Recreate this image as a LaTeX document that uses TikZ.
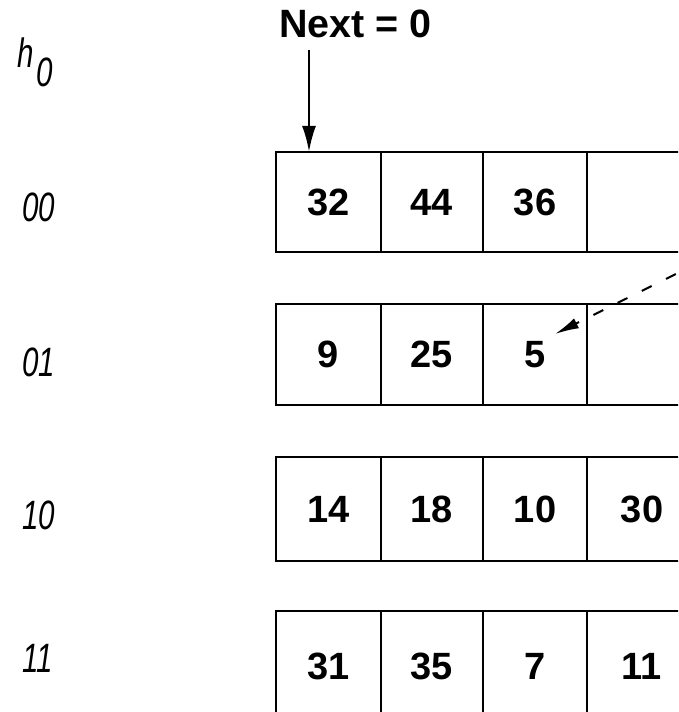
\documentclass[tikz,border=0pt]{standalone}
\usepackage{fontspec}
\usetikzlibrary{arrows.meta}
\newfontfamily\numfont{Liberation Sans}
\newfontfamily\labfont[FakeStretch=0.72]{Liberation Sans}
\begin{document}
\begin{tikzpicture}[x=1pt,y=1pt,
  cell/.style={draw, line width=2.8pt, rectangle, inner sep=0pt, outer sep=0pt,
    anchor=north west, font=\numfont\bfseries\fontsize{38}{40}\selectfont},
  rowlab/.style={inner sep=0pt, anchor=base west,
    font=\labfont\itshape\fontsize{41}{44}\selectfont},
  ptr/.style={line width=2.5pt, -{Latex[width=14pt,length=26pt]}},
  dptr/.style={line width=2pt, dash pattern=on 11pt off 16pt,
    -{Latex[width=11pt,length=24pt]}}]
\useasboundingbox (0,0) rectangle (678,712);
\clip (0,0) rectangle (678,712);
% row 00
\node[cell, minimum width=105pt, minimum height=100pt] (c00) at (276,560) {32};
\node[cell, minimum width=102pt, minimum height=100pt] (c01) at (381,560) {44};
\node[cell, minimum width=104pt, minimum height=100pt] (c02) at (483,560) {36};
\node[cell, minimum width=110pt, minimum height=100pt] (c03) at (587,560) {};
% row 01
\node[cell, minimum width=105pt, minimum height=101pt] (c10) at (276,408) {9};
\node[cell, minimum width=102pt, minimum height=101pt] (c11) at (381,408) {25};
\node[cell, minimum width=104pt, minimum height=101pt] (c12) at (483,408) {5};
\node[cell, minimum width=110pt, minimum height=101pt] (c13) at (587,408) {};
% row 10
\node[cell, minimum width=105pt, minimum height=104pt] (c20) at (276,255) {14};
\node[cell, minimum width=102pt, minimum height=104pt] (c21) at (381,255) {18};
\node[cell, minimum width=104pt, minimum height=104pt] (c22) at (483,255) {10};
\node[cell, minimum width=110pt, minimum height=104pt] (c23) at (587,255) {30};
% row 11
\node[cell, minimum width=105pt, minimum height=110pt] (c30) at (276,101) {\raisebox{-1pt}{31}};
\node[cell, minimum width=102pt, minimum height=110pt] (c31) at (381,101) {\raisebox{-1pt}{35}};
\node[cell, minimum width=104pt, minimum height=110pt] (c32) at (483,101) {\raisebox{-1pt}{7}};
\node[cell, minimum width=110pt, minimum height=110pt] (c33) at (587,101) {\raisebox{-1pt}{11}};
% labels
\node[rowlab] (h0) at (17,644) {h\kern3pt\raisebox{-19pt}{0}};
\node[rowlab] (l00) at (22,490) {00};
\node[rowlab] (l01) at (22,335) {01};
\node[rowlab] (l10) at (22,182) {10};
\node[rowlab] (l11) at (22,39) {11};
% Next pointer
\node[inner sep=0pt, anchor=base west,
  font=\numfont\bfseries\fontsize{39.5}{42}\selectfont] (nxt) at (279,674) {Next = 0};
\draw[ptr] ([xshift=30pt,yshift=-11pt]nxt.south west) -- ([xshift=30pt]nxt.south west |- c00.north);
% dashed pointer from beyond the right edge
\coordinate (src) at (700,450);
\draw[dptr] (src) -- ([xshift=20pt,yshift=20.5pt]c12.center);
\end{tikzpicture}
\end{document}
